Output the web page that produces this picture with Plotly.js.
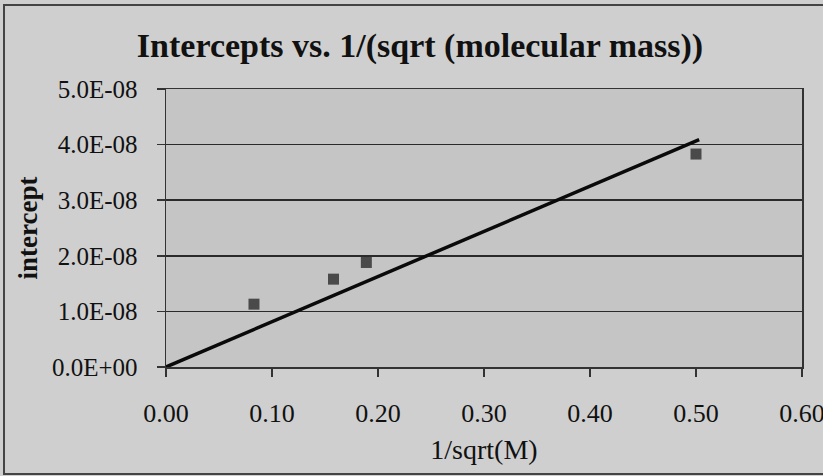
<!DOCTYPE html>
<html><head><meta charset="utf-8">
<script src="https://cdn.plot.ly/plotly-3.0.1.min.js"></script>
<style>html,body{margin:0;padding:0;background:#cfcfcf;}#chart{width:823px;height:476px;}</style>
</head><body><div id="chart"></div>
<script>
// Data
const xPoints = [0.083, 0.158, 0.189, 0.500];
const yPoints = [1.13e-8, 1.58e-8, 1.88e-8, 3.83e-8];
const xLine = [0, 0.503];
const yLine = [0, 4.09e-8];
const yTickVals = [0, 1e-8, 2e-8, 3e-8, 4e-8, 5e-8];
const yTickText = ['0.0E+00', '1.0E-08', '2.0E-08', '3.0E-08', '4.0E-08', '5.0E-08'];
const xTickVals = [0, 0.1, 0.2, 0.3, 0.4, 0.5, 0.6];
const xTickText = ['0.00', '0.10', '0.20', '0.30', '0.40', '0.50', '0.60'];

const font = {family: 'Liberation Serif, Times New Roman, serif', color: '#111'};

const traces = [
  {x: xPoints, y: yPoints, mode: 'markers', type: 'scatter',
   marker: {symbol: 'square', size: 11, color: '#4a4a4a'}, showlegend: false},
  {x: xLine, y: yLine, mode: 'lines', type: 'scatter',
   line: {color: '#0a0a0a', width: 3.5}, showlegend: false}
];

const layout = {
  width: 823, height: 476,
  paper_bgcolor: '#cfcfcf', plot_bgcolor: '#c5c5c5',
  margin: {l: 166, r: 21, t: 89, b: 109},
  title: {text: '<b>Intercepts vs. 1/(sqrt (molecular mass))</b>', x: 420/823, xanchor: 'center',
          y: 1 - 45/476, yanchor: 'middle',
          font: Object.assign({}, font, {size: 34})},
  xaxis: {range: [0, 0.6], tickvals: xTickVals, ticktext: xTickText,
          showgrid: false, zeroline: false, showline: true, linecolor: '#333', linewidth: 1.5, mirror: true,
          ticks: 'outside', ticklen: 8, tickcolor: '#333', tickwidth: 1.5, ticklabelstandoff: 14,
          ticklabeloverflow: 'allow',
          tickfont: Object.assign({}, font, {size: 26}),
          title: {text: '1/sqrt(M)', font: Object.assign({}, font, {size: 28}), standoff: 12}},
  yaxis: {range: [0, 5e-8], tickvals: yTickVals, ticktext: yTickText,
          showgrid: true, gridcolor: '#2a2a2a', gridwidth: 1.5, zeroline: false,
          showline: true, linecolor: '#333', linewidth: 1.5, mirror: true,
          ticks: 'outside', ticklen: 8, tickcolor: '#333', tickwidth: 1.5, ticklabelstandoff: 14,
          tickfont: Object.assign({}, font, {size: 25}),
          title: {text: '<b>intercept</b>', font: Object.assign({}, font, {size: 27}), standoff: 6}},
  shapes: [{type: 'rect', xref: 'paper', yref: 'paper', x0: -0.2547, x1: 1.06, y0: -0.385, y1: 1.302,
            line: {color: '#444', width: 2}, fillcolor: 'rgba(0,0,0,0)', layer: 'below'}]
};

Plotly.newPlot('chart', traces, layout, {displayModeBar: false, staticPlot: true});
</script></body></html>
